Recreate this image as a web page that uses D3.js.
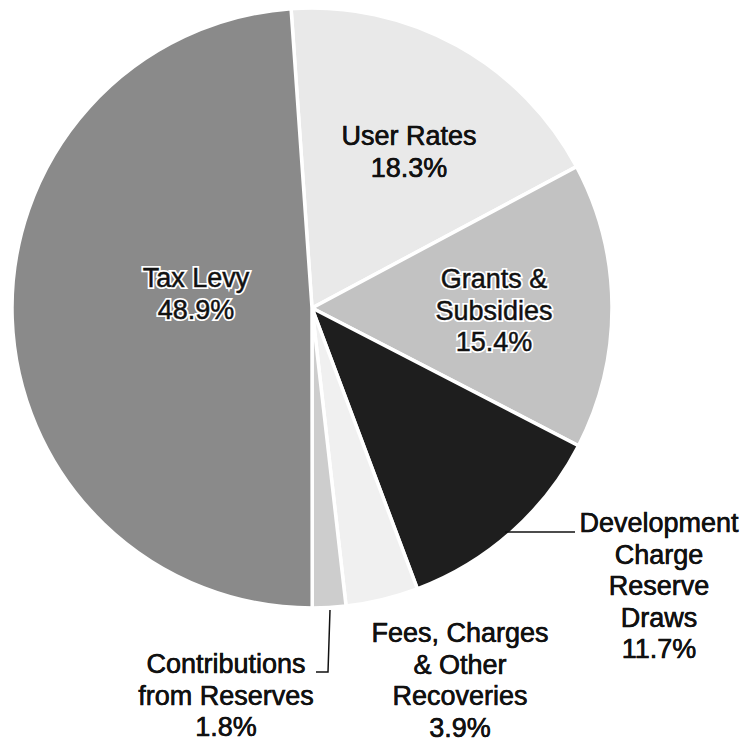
<!DOCTYPE html>
<html>
<head>
<meta charset="utf-8">
<script src="https://cdn.jsdelivr.net/npm/d3@7"></script>
<style>
  html, body { margin: 0; padding: 0; background: #fff; }
  svg { display: block; }
  text { font-family: "Liberation Sans", Arial, sans-serif; }
</style>
</head>
<body>
<svg id="chart" width="746" height="742"></svg>
<script>
// slice data, clockwise from the top
const categories = [
  "User Rates",
  "Grants & Subsidies",
  "Development Charge Reserve Draws",
  "Fees, Charges & Other Recoveries",
  "Contributions from Reserves",
  "Tax Levy",
];
const shares = [18.3, 15.4, 11.7, 3.9, 1.8, 48.9];
const labelLines = [
  ["User Rates", "18.3%"],
  ["Grants &", "Subsidies", "15.4%"],
  ["Development", "Charge", "Reserve", "Draws", "11.7%"],
  ["Fees, Charges", "& Other", "Recoveries", "3.9%"],
  ["Contributions", "from Reserves", "1.8%"],
  ["Tax Levy", "48.9%"],
];

const greys = ["#e9e9e9", "#c2c2c2", "#1e1e1e", "#f0f0f0", "#cdcdcd", "#8a8a8a"];

const width = 746;
const height = 742;
const cx = 312;
const cy = 308;
const radius = 300;
const rotation = (-4 * Math.PI) / 180;

// label anchors (centre x, first baseline y)
const labelPos = [
  { x: 409, y: 145, halo: false },
  { x: 494, y: 288, halo: true },
  { x: 659, y: 532, halo: false },
  { x: 460, y: 642, halo: false },
  { x: 226, y: 673, halo: false },
  { x: 196, y: 287, halo: true },
];
const lineHeight = 31.5;

const svg = d3.select("#chart");

const pie = d3
  .pie()
  .sort(null)
  .value((d) => d)
  .startAngle(rotation)
  .endAngle(rotation + 2 * Math.PI);

const arc = d3.arc().innerRadius(0).outerRadius(radius);

const g = svg.append("g").attr("transform", `translate(${cx},${cy})`);

g.selectAll("path.slice")
  .data(pie(shares))
  .enter()
  .append("path")
  .attr("class", "slice")
  .attr("d", arc)
  .attr("fill", (d, i) => greys[i])
  .attr("stroke", "#fff")
  .attr("stroke-width", 3.5)
  .attr("stroke-linejoin", "round");

// leader lines
const leaders = [
  [[505, 532], [575, 532]],
  [[330, 610], [328, 672], [316, 672]],
];

svg
  .selectAll(".leader")
  .data(leaders)
  .enter()
  .append("path")
  .attr("class", "leader")
  .attr("d", (d) => d3.line()(d))
  .attr("fill", "none")
  .attr("stroke", "#111")
  .attr("stroke-width", 1.5);

// labels (halo pass first for the ones sitting on dark slices)
function drawLabels(cls, strokeFn, widthPx) {
  const labels = svg
    .selectAll("." + cls)
    .data(labelLines)
    .enter()
    .append("text")
    .attr("class", cls)
    .attr("text-anchor", "middle")
    .attr("font-size", "27px")
    .attr("fill", "#111")
    .attr("stroke", strokeFn)
    .attr("stroke-width", widthPx);

  labels.each(function (lines, i) {
    const t = d3.select(this);
    lines.forEach((line, j) => {
      t.append("tspan")
        .attr("x", labelPos[i].x)
        .attr("y", labelPos[i].y + j * lineHeight)
        .text(line);
    });
  });
}

drawLabels("halo", (d, i) => (labelPos[i].halo ? "#fff" : "none"), 4);
drawLabels("label", "#111", 0.5);
</script>
</body>
</html>
